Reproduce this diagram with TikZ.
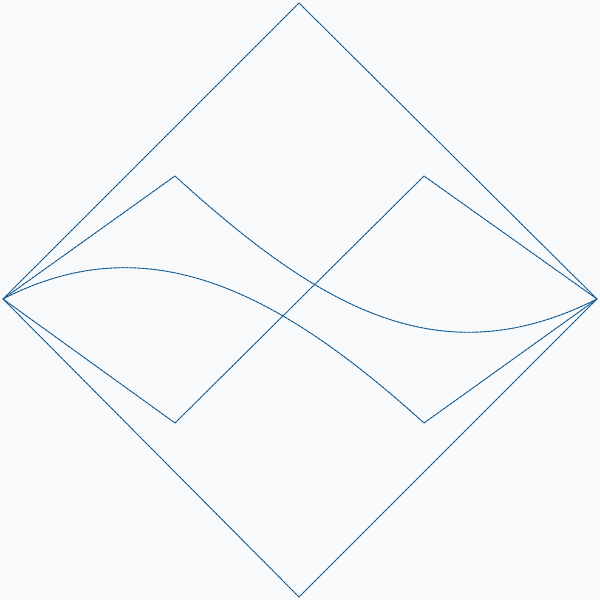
\documentclass[tikz,border=0pt]{standalone}
\definecolor{bgc}{RGB}{248,249,250}
\definecolor{lc}{RGB}{31,119,180}
\definecolor{dc}{RGB}{35,55,85}
\tikzset{
  edge/.style={draw=lc, line width=0.9pt, postaction={draw=dc, line width=0.45pt, dash pattern=on 2pt off 2pt}},
}
\begin{document}
\begin{tikzpicture}[x=1pt,y=-1pt]
\fill[bgc] (0,0) rectangle (600,600);
\useasboundingbox (0,0) rectangle (600,600);
\coordinate (T) at (299,3);
\coordinate (R) at (597,299);
\coordinate (B) at (299,597);
\coordinate (L) at (3,299);
\coordinate (a) at (175,176);
\coordinate (b) at (424,176);
\coordinate (c) at (175,423);
\coordinate (d) at (424,423);
\path[edge] (L) -- (T) -- (R) -- (B) -- cycle;
\path[edge] (L) -- (a);
\path[edge] (a) .. controls (320,308) and (440,378) .. (R);
\path[edge] (L) -- (c) -- (b) -- (R);
\path[edge] (L) .. controls (148,224) and (278,291) .. (d);
\path[edge] (d) -- (R);
\end{tikzpicture}
\end{document}
